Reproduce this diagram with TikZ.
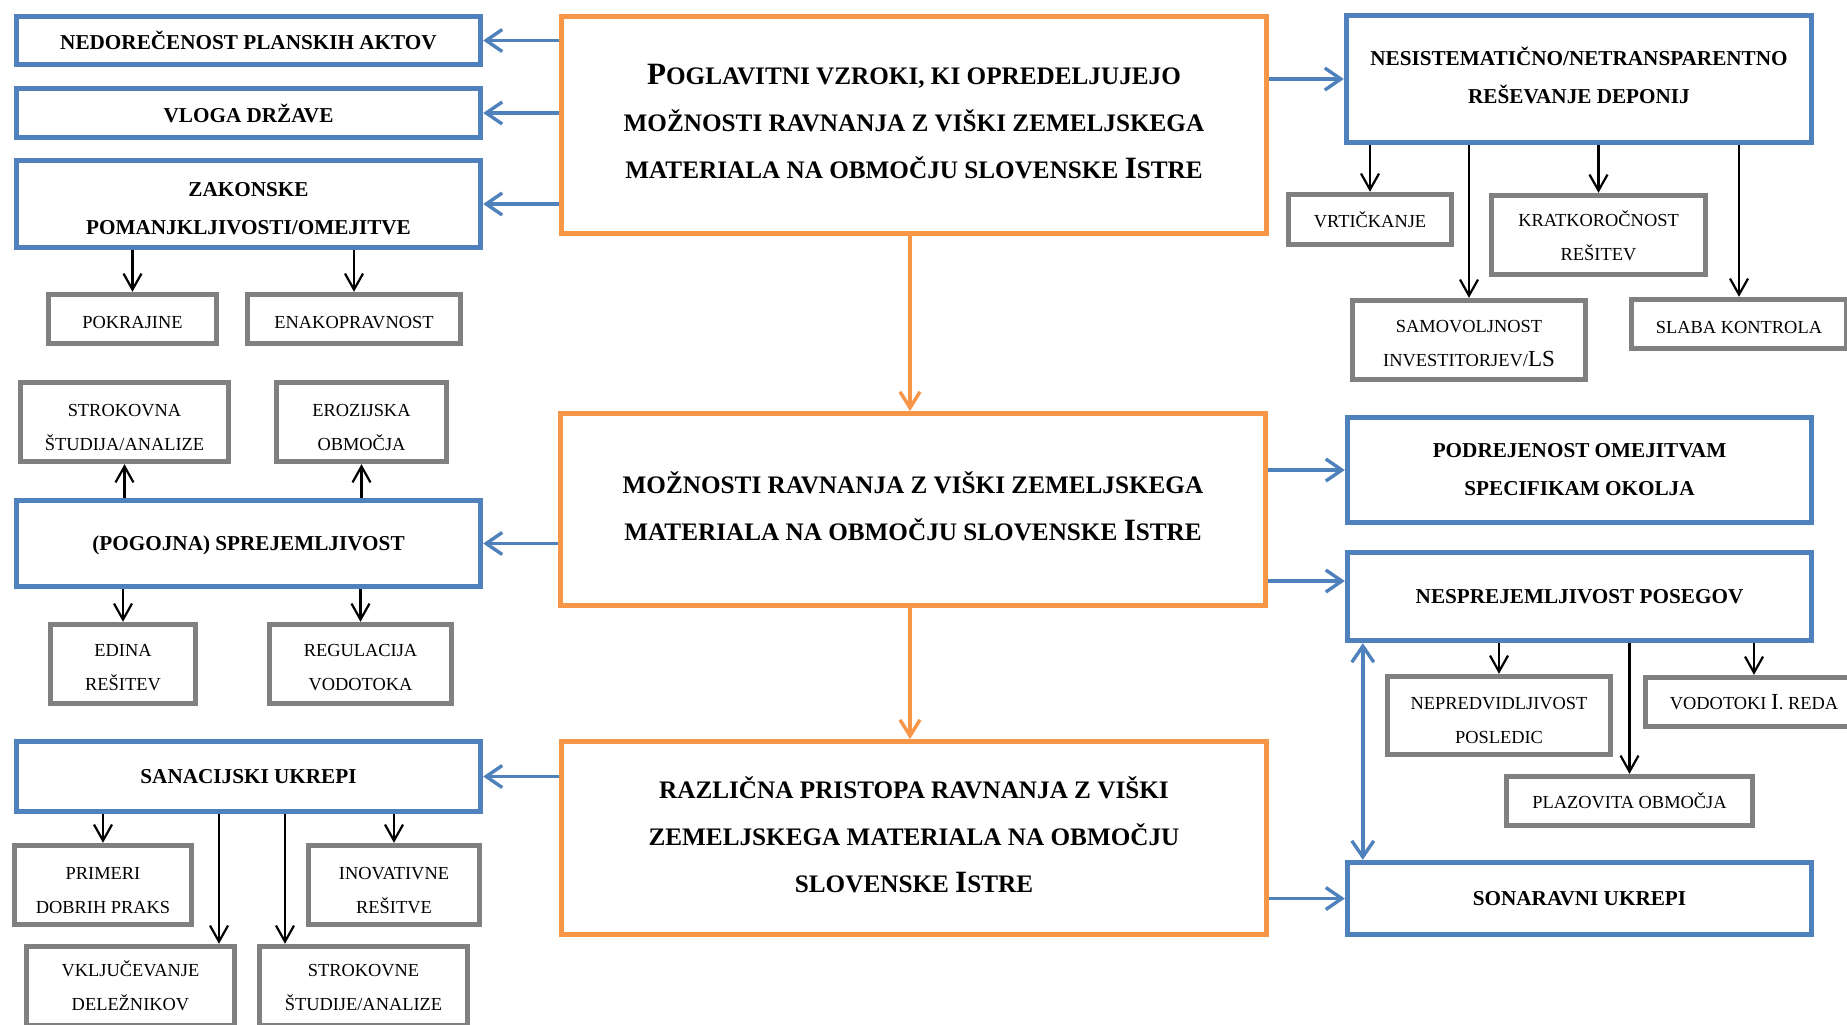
\documentclass[tikz,border=0pt]{standalone}
\usepackage{fontspec}
\setmainfont{Liberation Serif}
\usepackage{xcolor}
\usetikzlibrary{arrows.meta}

\definecolor{causeblue}{HTML}{4F81BD}
\definecolor{mainorange}{HTML}{F79646}
\definecolor{itemgrey}{HTML}{808080}

% larger initials of the small caps
\newcommand{\capletter}[1]{{\fontsize{15.5}{15.5}\selectfont #1}}
\newcommand{\capletterS}[1]{{\fontsize{11.5}{11.5}\selectfont #1}}
% invisible strut that pushes the first line down
\newcommand{\topstrut}[1]{\rule{0pt}{#1}}

\begin{document}
\begin{tikzpicture}[x=0.5pt,y=-0.5pt,
    causebox/.style={draw=causeblue, line width=2.4pt, fill=white, inner sep=0pt, align=center, font=\bfseries\fontsize{10.6}{19}\selectfont},
    itembox/.style={draw=itemgrey, line width=2.7pt, fill=white, inner sep=0pt, align=center, font=\fontsize{9.2}{17}\selectfont},
    mainbox/.style={draw=mainorange, line width=2.4pt, fill=white, inner sep=0pt, align=center, font=\bfseries\fontsize{12.6}{23.5}\selectfont, textup=3.5pt},
    boxsize/.style 2 args={minimum width=#1pt, minimum height=#2pt},
    textdown/.style={execute at begin node={\rule{0pt}{#1}}},
    textup/.style={execute at end node={\rule[-#1]{0pt}{#1}}},
    bluearrow/.style={draw=causeblue, line width=1.7pt, -{Straight Barb[length=8pt,width=11pt]}},
    bluedouble/.style={draw=causeblue, line width=1.7pt, {Straight Barb[length=8pt,width=11pt]}-{Straight Barb[length=8pt,width=11pt]}},
    blackarrow/.style={draw=black, line width=1.1pt, -{Straight Barb[length=8pt,width=9pt]}},
    orangearrow/.style={draw=mainorange, line width=1.7pt, -{Straight Barb[length=8pt,width=10pt]}}]

    % Page
    \clip (0,0) rectangle (1847,1024);
    \fill[white] (0,0) rectangle (1847,1024);

    % Main chain
    \node[mainbox, boxsize={352.6}{108.6}] (poglav) at (914,125) {\capletter{P}OGLAVITNI VZROKI, KI OPREDELJUJEJO\\MOŽNOSTI RAVNANJA Z VIŠKI ZEMELJSKEGA\\MATERIALA NA OBMOČJU SLOVENSKE \capletter{I}STRE};
    \node[mainbox, boxsize={352.6}{96.1}] (moznosti) at (913,509.5) {MOŽNOSTI RAVNANJA Z VIŠKI ZEMELJSKEGA\\MATERIALA NA OBMOČJU SLOVENSKE \capletter{I}STRE};
    \node[mainbox, boxsize={352.6}{96.6}] (razlicna) at (914,838) {RAZLIČNA PRISTOPA RAVNANJA Z VIŠKI\\ZEMELJSKEGA MATERIALA NA OBMOČJU\\SLOVENSKE \capletter{I}STRE};

    \coordinate (spine) at ([xshift=-2pt]poglav.south);
    \draw[orangearrow] (spine) -- (spine |- moznosti.north);
    \draw[orangearrow] (spine |- moznosti.south) -- (spine |- razlicna.north);

    % Left column
    \node[causebox, boxsize={232.3}{24.3}] (nedor) at (248.5,40.5) {NEDOREČENOST PLANSKIH AKTOV};
    \node[causebox, boxsize={232.3}{24.8}] (vloga) at (248.5,113) {VLOGA DRŽAVE};
    \node[causebox, boxsize={232.3}{43.8}] (zakon) at (248.5,204) {\topstrut{11.7pt}ZAKONSKE\\POMANJKLJIVOSTI/OMEJITVE};
    \node[itembox, boxsize={84}{24.5}, textdown=9.5pt] (pokraj) at (132.5,319) {POKRAJINE};
    \node[itembox, boxsize={106.5}{24.5}, textdown=9.5pt] (enako) at (354,319) {ENAKOPRAVNOST};

    \node[itembox, boxsize={104}{39.5}] (strokovna) at (124.5,422) {\topstrut{11.2pt}STROKOVNA\\ŠTUDIJA/ANALIZE};
    \node[itembox, boxsize={85}{39.5}] (erozij) at (361.5,422) {\topstrut{11.2pt}EROZIJSKA\\OBMOČJA};
    \node[causebox, boxsize={232.3}{43.3}, textdown=9.6pt] (pogojna) at (248.5,543.5) {(POGOJNA) SPREJEMLJIVOST};
    \node[itembox, boxsize={72.5}{39.5}] (edina) at (123,664) {\topstrut{10pt}EDINA\\REŠITEV};
    \node[itembox, boxsize={91}{39.5}] (regul) at (360.5,664) {\topstrut{10pt}REGULACIJA\\VODOTOKA};

    \node[causebox, boxsize={232.3}{35.3}] (sanac) at (248.5,776.5) {SANACIJSKI UKREPI};
    \node[itembox, boxsize={88.5}{39.5}] (primeri) at (103,885) {\topstrut{11.2pt}PRIMERI\\DOBRIH PRAKS};
    \node[itembox, boxsize={85.5}{39.5}] (inovat) at (394,885) {\topstrut{11.2pt}INOVATIVNE\\REŠITVE};
    \node[itembox, boxsize={104}{39.5}] (vklj) at (130.5,986) {\topstrut{7.8pt}VKLJUČEVANJE\\DELEŽNIKOV};
    \node[itembox, boxsize={104}{39.5}] (strokovne) at (363.5,986) {\topstrut{7.8pt}STROKOVNE\\ŠTUDIJE/ANALIZE};

    \draw[bluearrow] (nedor -| poglav.west) -- (nedor.east);
    \draw[bluearrow] (vloga -| poglav.west) -- (vloga.east);
    \draw[bluearrow] (zakon -| poglav.west) -- (zakon.east);
    \draw[bluearrow] (pogojna -| moznosti.west) -- (pogojna.east);
    \draw[bluearrow] (sanac -| razlicna.west) -- (sanac.east);

    \draw[blackarrow] (zakon.south -| pokraj) -- (pokraj.north);
    \draw[blackarrow] (zakon.south -| enako) -- (enako.north);
    \draw[blackarrow] (pogojna.north -| strokovna) -- (strokovna.south);
    \draw[blackarrow] (pogojna.north -| erozij) -- (erozij.south);
    \draw[blackarrow] (pogojna.south -| edina) -- (edina.north);
    \draw[blackarrow] (pogojna.south -| regul) -- (regul.north);

    \coordinate (vkljin) at ([xshift=44.25pt]vklj.north);
    \coordinate (strokovnein) at ([xshift=-39.25pt]strokovne.north);
    \draw[blackarrow] (sanac.south -| primeri) -- (primeri.north);
    \draw[blackarrow] (sanac.south -| vkljin) -- (vkljin);
    \draw[blackarrow] (sanac.south -| strokovnein) -- (strokovnein);
    \draw[blackarrow] (sanac.south -| inovat) -- (inovat.north);

    % Right column
    \node[causebox, boxsize={232.8}{63.8}, textup=4pt] (nesist) at (1579,79) {NESISTEMATIČNO/NETRANSPARENTNO\\REŠEVANJE DEPONIJ};
    \node[itembox, boxsize={81.5}{25}] (vrtick) at (1370,219.5) {VRTIČKANJE};
    \node[itembox, boxsize={107}{39.5}] (kratko) at (1598.5,235) {\topstrut{8.4pt}KRATKOROČNOST\\REŠITEV};
    \node[itembox, boxsize={116.5}{39.5}] (samovol) at (1469,340) {\topstrut{10pt}SAMOVOLJNOST\\INVESTITORJEV/\capletterS{LS}};
    \node[itembox, boxsize={107.5}{24.5}, textdown=9.5pt] (slaba) at (1739,324) {SLABA KONTROLA};

    \node[causebox, boxsize={232.3}{52.8}] (podrej) at (1579.5,470) {PODREJENOST OMEJITVAM\\SPECIFIKAM OKOLJA};
    \node[causebox, boxsize={232.3}{44.3}] (nesprej) at (1579.5,596.5) {NESPREJEMLJIVOST POSEGOV};
    \node[itembox, boxsize={111.5}{39}] (nepred) at (1499,715.5) {\topstrut{10.7pt}NEPREDVIDLJIVOST\\POSLEDIC};
    \node[itembox, boxsize={108.5}{24.5}] (vodotoki) at (1754,702) {VODOTOKI \capletterS{I}. REDA};
    \node[itembox, boxsize={123}{24.5}] (plazov) at (1629.5,801) {PLAZOVITA OBMOČJA};
    \node[causebox, boxsize={232.3}{36.3}] (sonar) at (1579.5,898.5) {SONARAVNI UKREPI};

    \draw[bluearrow] (nesist -| poglav.east) -- (nesist.west);
    \draw[bluearrow] (podrej -| moznosti.east) -- (podrej.west);
    \coordinate (nesprejin) at ([yshift=7.75pt]nesprej.west);
    \draw[bluearrow] (nesprejin -| moznosti.east) -- (nesprejin);
    \draw[bluearrow] (sonar -| razlicna.east) -- (sonar.west);

    \draw[blackarrow] (nesist.south -| vrtick) -- (vrtick.north);
    \draw[blackarrow] (nesist.south -| samovol) -- (samovol.north);
    \draw[blackarrow] (nesist.south -| kratko) -- (kratko.north);
    \draw[blackarrow] (nesist.south -| slaba) -- (slaba.north);

    \draw[blackarrow] (nesprej.south -| nepred) -- (nepred.north);
    \draw[blackarrow] (nesprej.south -| plazov) -- (plazov.north);
    \draw[blackarrow] (nesprej.south -| vodotoki) -- (vodotoki.north);

    \coordinate (dbl) at ([xshift=9pt]nesprej.south west);
    \draw[bluedouble] (dbl) -- (dbl |- sonar.north);

\end{tikzpicture}
\end{document}
